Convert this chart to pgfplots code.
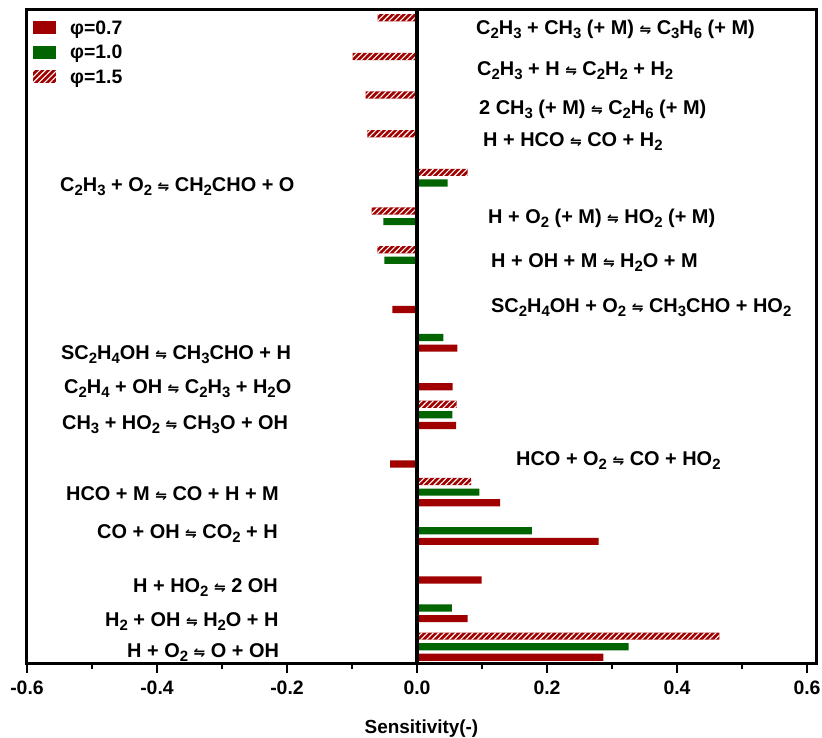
\documentclass[border=0pt]{standalone}
\usepackage{pgfplots}
\pgfplotsset{compat=1.18}
\usetikzlibrary{patterns.meta}
\usepackage{fontspec}
\setmainfont{Liberation Sans}
\newfontfamily\arrowfont{DejaVu Sans}
\definecolor{phired}{RGB}{160,0,0}
\definecolor{phigreen}{RGB}{0,100,0}
% chemical subscripts and the equilibrium harpoons
\newcommand\s[1]{\raisebox{-4bp}{\fontsize{15}{15}\selectfont #1}}
\newcommand\eq{{\arrowfont\bfseries\fontsize{14}{14}\selectfont ⇋}}
\tikzset{lbl/.style={anchor=base west, inner sep=0pt, font=\fontsize{20}{20}\selectfont\bfseries}}

\begin{document}
\begin{tikzpicture}
\begin{axis}[
  scale only axis, width=789bp, height=653.7bp,
  xmin=-0.6, xmax=0.6138, ymin=-0.44, ymax=16.476,
  xbar, bar width=0.186,
  axis line style={line width=3bp},
  xtick={-0.6,-0.4,-0.2,0,0.2,0.4,0.6},
  xticklabels={-0.6,-0.4,-0.2,0.0,0.2,0.4,0.6},
  minor xtick={-0.5,-0.3,-0.1,0.1,0.3,0.5},
  ytick=\empty,
  xtick pos=left, tick align=outside,
  major tick length=9bp, minor tick length=5.5bp,
  tick style={line width=2bp, black},
  xticklabel style={font=\fontsize{19.5}{19.5}\selectfont\bfseries, anchor=base, yshift=-22bp},
  xlabel={Sensitivity(-)},
  xlabel style={font=\fontsize{19}{19}\selectfont\bfseries, at={(rel axis cs:0.5,0)}, anchor=base, yshift=-69.5bp},
  legend style={draw=none, fill=none, at={(rel axis cs:0,1)}, anchor=north west,
    xshift=6bp, yshift=-7bp, inner sep=0pt, row sep=0pt, column sep=12bp,
    font=\fontsize{19.5}{19.5}\selectfont\bfseries,
    nodes={inner ysep=3.25bp, text height=14bp, text depth=4bp}},
  legend cell align=left,
  legend image code/.code={\path[#1, draw=none] (0bp,-5bp) rectangle (23bp,8bp);},
]
% phi = 0.7
\addplot[fill=phired, draw=none, bar shift=-0.274] coordinates {
  (0.2866,0) (0.078,1) (0.0995,2) (0.2795,3) (0.1277,4)
  (-0.0415,5) (0.060,6) (0.0549,7) (0.062,8) (-0.038,9)};
% phi = 1.0
\addplot[fill=phigreen, draw=none, bar shift=0] coordinates {
  (0.3257,0) (0.0538,1) (0.1765,3) (0.0958,4) (0.0543,6)
  (0.0405,8) (-0.0503,10) (-0.0518,11) (0.0472,12)};
% phi = 1.5
\addplot[fill=phired, draw=none, bar shift=0.274,
  postaction={pattern={Lines[angle=45,distance=4bp,line width=1.1bp]}, pattern color=white}] coordinates {
  (0.4651,0) (0.0831,4) (0.0611,6) (-0.0611,10) (-0.0697,11)
  (0.078,12) (-0.0765,13) (-0.0789,14) (-0.0989,15) (-0.0605,16)};
\legend{φ=0.7, φ=1.0, φ=1.5}

\draw[line width=4.5bp] (axis cs:0,-0.44) -- (axis cs:0,16.476);

\node[lbl] at (axis cs:0.0908,15.83) {C\s2H\s3 + CH\s3 (+ M) \eq\ C\s3H\s6 (+ M)};
\node[lbl] at (axis cs:0.0923,14.77) {C\s2H\s3 + H \eq\ C\s2H\s2 + H\s2};
\node[lbl] at (axis cs:0.0954,13.76) {2 CH\s3 (+ M) \eq\ C\s2H\s6 (+ M)};
\node[lbl] at (axis cs:0.1015,12.94) {H + HCO \eq\ CO + H\s2};
\node[lbl] at (axis cs:-0.5492,11.78) {C\s2H\s3 + O\s2 \eq\ CH\s2CHO + O};
\node[lbl] at (axis cs:0.1092,10.96) {H + O\s2 (+ M) \eq\ HO\s2 (+ M)};
\node[lbl] at (axis cs:0.1138,9.81) {H + OH + M \eq\ H\s2O + M};
\node[lbl] at (axis cs:0.1138,8.64) {SC\s2H\s4OH + O\s2 \eq\ CH\s3CHO + HO\s2};
\node[lbl] at (axis cs:-0.5477,7.42) {SC\s2H\s4OH \eq\ CH\s3CHO + H};
\node[lbl] at (axis cs:-0.5431,6.54) {C\s2H\s4 + OH \eq\ C\s2H\s3 + H\s2O};
\node[lbl] at (axis cs:-0.5462,5.63) {CH\s3 + HO\s2 \eq\ CH\s3O + OH};
\node[lbl] at (axis cs:0.1523,4.68) {HCO + O\s2 \eq\ CO + HO\s2};
\node[lbl] at (axis cs:-0.5400,3.78) {HCO + M \eq\ CO + H + M};
\node[lbl] at (axis cs:-0.4923,2.80) {CO + OH \eq\ CO\s2 + H};
\node[lbl] at (axis cs:-0.4369,1.40) {H + HO\s2 \eq\ 2 OH};
\node[lbl] at (axis cs:-0.4800,0.52) {H\s2 + OH \eq\ H\s2O + H};
\node[lbl] at (axis cs:-0.4462,-0.28) {H + O\s2 \eq\ O + OH};
\end{axis}
\pgfresetboundingbox
\path[use as bounding box] ([shift={(-27bp,-74.3bp)}]current axis.south west)
  rectangle ([shift={(795bp,663.7bp)}]current axis.south west);
\end{tikzpicture}
\end{document}
